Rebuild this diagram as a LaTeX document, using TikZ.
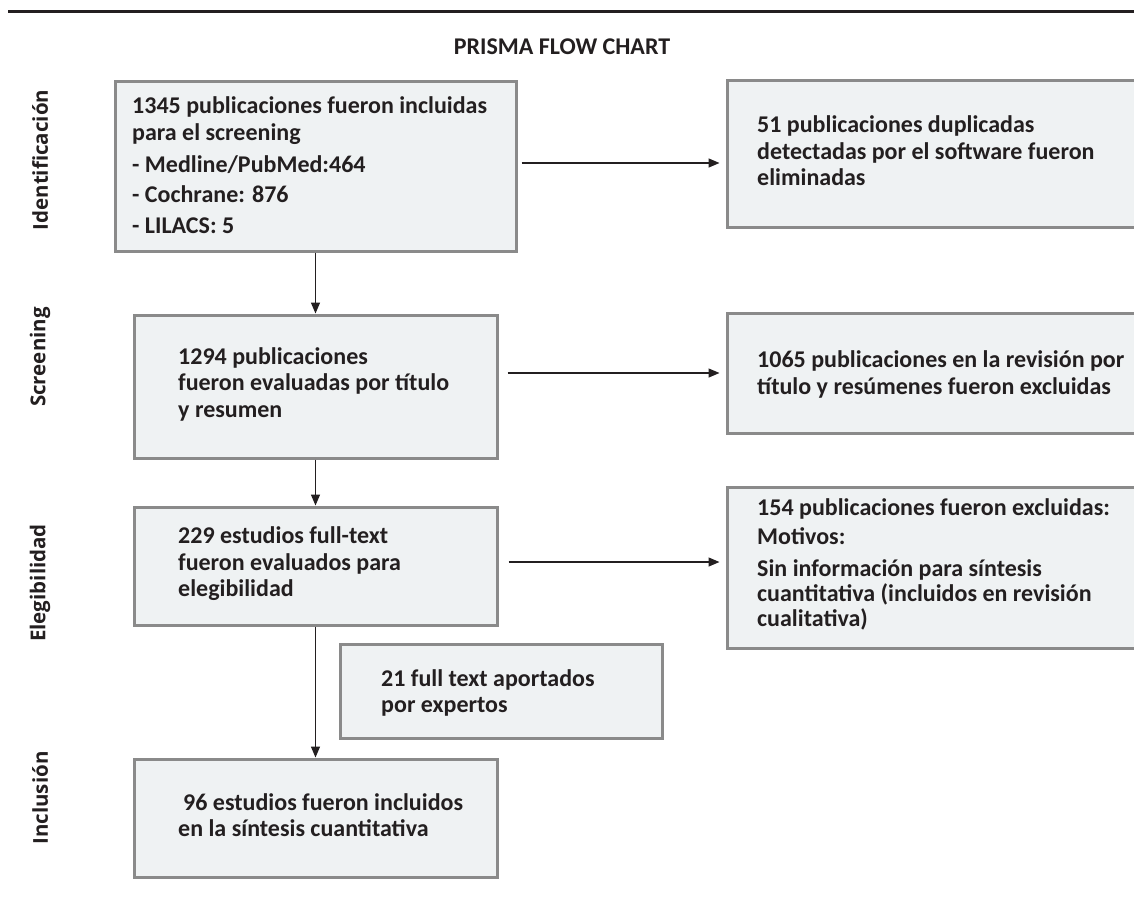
\documentclass[tikz,border=0pt]{standalone}
\usepackage{fontspec}
\setmainfont{Carlito}
\newfontfamily\sidefont{Open Sans}
\usetikzlibrary{arrows.meta}
\definecolor{boxfill}{HTML}{EFF2F3}
\definecolor{boxline}{HTML}{8A8A8A}
\definecolor{ink}{HTML}{231F20}
\begin{document}
\begin{tikzpicture}[x=1pt,y=-1pt,
  box/.style={draw=boxline, fill=boxfill, line width=3pt, inner sep=0pt},
  txt/.style={anchor=west, align=left, inner sep=0pt, text=ink, font=\bfseries\fontsize{24}{26.5}\selectfont},
  side/.style={rotate=90, inner sep=0pt, text=ink, font=\sidefont\bfseries\fontsize{20.5}{24}\selectfont},
  arr/.style={draw=ink, line width=1.3pt, -{Triangle[length=11pt,width=9pt]}}]
\useasboundingbox (0,0) rectangle (1134,903);
\clip (0,0) rectangle (1134,903);
% top rule
\coordinate (r1) at (8,11.5);
\coordinate (r2) at (1134,11.5);
\draw[ink, line width=3.5pt] (r1) -- (r2);
% title
\node[text=ink, font=\bfseries\fontsize{24}{28}\selectfont] (title) at (562,47) {PRISMA FLOW CHART};
% side labels
\node[side] (sId) at (40,160) {Identificación};
\node[side] (sSc) at (40,357) {Screening};
\node[side] (sEl) at (40,583) {Elegibilidad};
\node[side] (sIn) at (40,798) {Inclusión};
% left column boxes
\node[box, minimum width=401pt, minimum height=170pt] (b1) at (315.5,166) {};
\node[box, minimum width=363pt, minimum height=143pt] (b2) at (315.5,386.5) {};
\node[box, minimum width=363pt, minimum height=118pt] (b3) at (315.5,566) {};
\node[box, minimum width=322pt, minimum height=94pt] (b4) at (501,691) {};
\node[box, minimum width=363pt, minimum height=118pt] (b5) at (315.5,818) {};
% right column boxes
\node[box, minimum width=423pt, minimum height=147pt] (bA) at (938.5,153.5) {};
\node[box, minimum width=423pt, minimum height=120pt] (bB) at (938.5,373) {};
\node[box, minimum width=423pt, minimum height=161pt] (bC) at (938.5,567.5) {};
% texts
\node[txt] (t1) at (132,165) {1345 publicaciones fueron incluidas\\[1pt]para el screening\\[5pt]- Medline/PubMed:464\\[4pt]- Cochrane: 876\\[4pt]- LILACS: 5};
\node[txt] (t2) at (178,384) {1294 publicaciones\\fueron evaluadas por título\\y resumen};
\node[txt] (t3) at (178,564) {229 estudios full-text\\fueron evaluados para\\elegibilidad};
\node[txt] (t4) at (381,693) {21 full text aportados\\por expertos};
\node[txt] (t5) at (178,815) {\hspace*{5pt}96 estudios fueron incluidos\\en la síntesis cuantitativa};
\node[txt] (tA) at (757,151) {51 publicaciones duplicadas\\detectadas por el software fueron\\eliminadas};
\node[txt] (tB) at (757,374.5) {1065 publicaciones en la revisión por\\título y resúmenes fueron excluidas};
\node[txt] (tC) at (757,564) {154 publicaciones fueron excluidas:\\[3pt]Motivos:\\[5pt]Sin información para síntesis\\[-1.5pt]cuantitativa (incluidos en revisión\\[-1.5pt]cualitativa)};
% connectors
\coordinate (yA) at (0,163);
\coordinate (yC) at (0,562);
\draw[arr] (b1.south) -- (b2.north);
\draw[arr] (b2.south) -- (b3.north);
\draw[arr] (b3.south) -- (b5.north);
\draw[arr, shorten <=4pt, shorten >=6pt] (b1.east |- yA) -- (bA.west |- yA);
\draw[arr, shorten <=9pt, shorten >=6pt] (b2.east |- bB.west) -- (bB.west);
\draw[arr, shorten <=10pt, shorten >=6pt] (b3.east |- yC) -- (bC.west |- yC);
\end{tikzpicture}
\end{document}
